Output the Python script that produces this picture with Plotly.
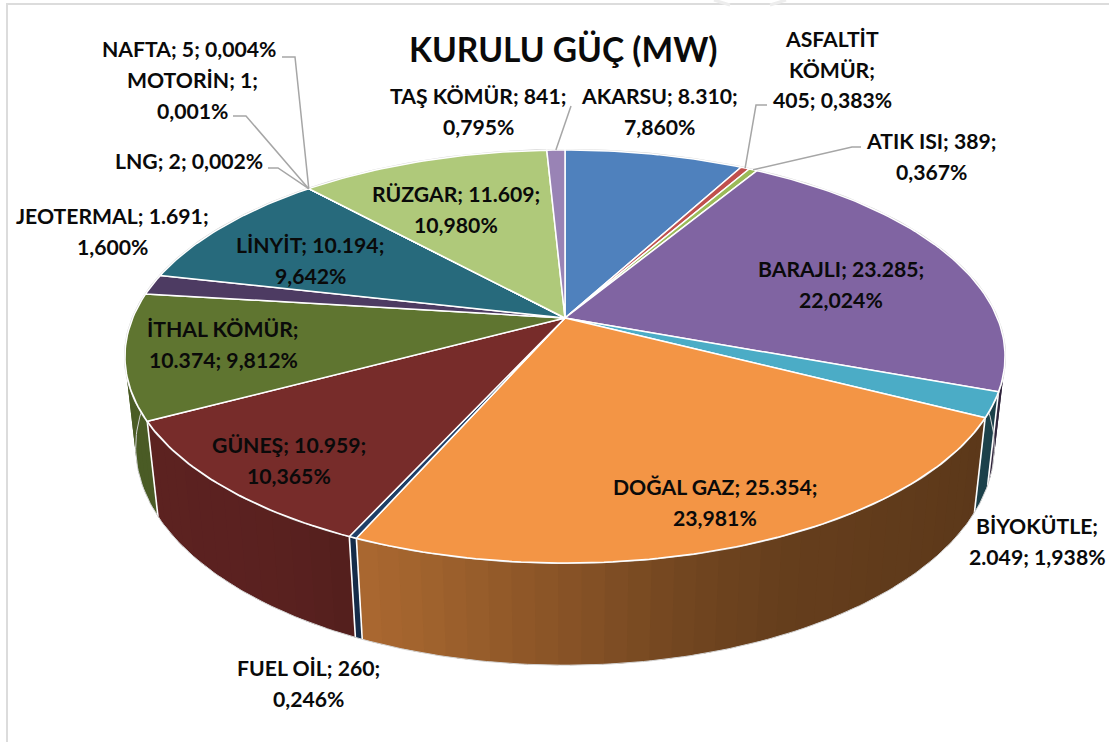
import numpy as np
import plotly.graph_objects as go

# ---- data -------------------------------------------------------------
categories = ["AKARSU", "ASFALTİT KÖMÜR", "ATIK ISI", "BARAJLI", "BİYOKÜTLE", "DOĞAL GAZ",
              "FUEL OİL", "GÜNEŞ", "İTHAL KÖMÜR", "JEOTERMAL", "LİNYİT", "LNG",
              "MOTORİN", "NAFTA", "RÜZGAR", "TAŞ KÖMÜR"]
values = [8310, 405, 389, 23285, 2049, 25354, 260, 10959, 10374, 1691, 10194, 2, 1, 5, 11609, 841]
value_labels = ["8.310", "405", "389", "23.285", "2.049", "25.354", "260", "10.959", "10.374",
                "1.691", "10.194", "2", "1", "5", "11.609", "841"]
percent_labels = ["7,860%", "0,383%", "0,367%", "22,024%", "1,938%", "23,981%", "0,246%", "10,365%",
                  "9,812%", "1,600%", "9,642%", "0,002%", "0,001%", "0,004%", "10,980%", "0,795%"]
colors = ["#4F81BD", "#C0504D", "#9BBB59", "#8064A2", "#4BACC6", "#F39545", "#1F3F68", "#772C2A",
          "#5F7530", "#4D3B62", "#276A7C", "#B65708", "#729ACA", "#CD7371", "#AFC97A", "#9983B5"]
title_text = "KURULU GÜÇ (MW)"

# ---- label line breaks and centres (layout, not data) -----------------
label_lines = {
    "AKARSU": (["AKARSU; {v};", "{p}"], 659, 96),
    "ASFALTİT KÖMÜR": (["ASFALTİT", "KÖMÜR;", "{v}; {p}"], 832, 39),
    "ATIK ISI": (["ATIK ISI; {v};", "{p}"], 931, 141),
    "BARAJLI": (["BARAJLI; {v};", "{p}"], 841, 269),
    "BİYOKÜTLE": (["BİYOKÜTLE;", "{v}; {p}"], 1037, 526),
    "DOĞAL GAZ": (["DOĞAL GAZ; {v};", "{p}"], 715, 487),
    "FUEL OİL": (["FUEL OİL; {v};", "{p}"], 308, 668),
    "GÜNEŞ": (["GÜNEŞ; {v};", "{p}"], 289, 445),
    "İTHAL KÖMÜR": (["İTHAL KÖMÜR;", "{v}; {p}"], 223, 329),
    "JEOTERMAL": (["JEOTERMAL; {v};", "{p}"], 112, 216),
    "LİNYİT": (["LİNYİT; {v};", "{p}"], 310, 245),
    "LNG": (["LNG; {v}; {p}"], 189, 161),
    "MOTORİN": (["MOTORİN; {v};", "{p}"], 192, 80),
    "NAFTA": (["NAFTA; {v}; {p}"], 189, 49),
    "RÜZGAR": (["RÜZGAR; {v};", "{p}"], 456, 194),
    "TAŞ KÖMÜR": (["TAŞ KÖMÜR; {v};", "{p}"], 478, 96),
}
leaders = {  # elbow start, elbow end; the third point is on the rim of the slice
    "TAŞ KÖMÜR": [(571, 106)],
    "ASFALTİT KÖMÜR": [(767, 105), (756, 105)],
    "ATIK ISI": [(861, 147), (852, 147)],
    "NAFTA": [(282, 57), (295, 57)],
    "MOTORİN": [(233, 116), (246, 116)],
    "LNG": [(268, 168), (278, 168)],
}

# ---- projection of the tilted disc ------------------------------------
CX, CY, A, B, P, H, Q = 565.0, 318.0, 432.3, 199.3, 0.1864, 91.5, 0.024


def rim(theta, depth=0.0):
    """theta clockwise from 12 o'clock in radians, depth 0 top face, 1 bottom face."""
    u, v = np.sin(theta), np.cos(theta)
    w = 1 + P * v + Q * depth
    return CX + A * u / w, CY + (-B * v + H * depth) / w


total = sum(values)
edges = 2 * np.pi * np.concatenate([[0], np.cumsum(values)]) / total

# lighting of the side wall by clock angle (degrees)
shade_deg = [90, 120, 140, 155, 165, 180, 195, 205, 215, 240, 270]
shade_val = [0.37, 0.38, 0.40, 0.42, 0.46, 0.56, 0.66, 0.71, 0.76, 0.78, 0.80]


def shade(hex_color, f):
    rgb = [int(hex_color[i:i + 2], 16) for i in (1, 3, 5)]
    return "rgb({},{},{})".format(*[int(c * f) for c in rgb])


fig = go.Figure()


def poly(xs, ys, fill, line="rgba(0,0,0,0)", width=0):
    fig.add_trace(go.Scatter(x=xs, y=ys, mode="lines", fill="toself", fillcolor=fill,
                             line=dict(color=line, width=width), hoverinfo="skip", showlegend=False))


def stroke(xs, ys, color, width):
    fig.add_trace(go.Scatter(x=xs, y=ys, mode="lines", line=dict(color=color, width=width),
                             hoverinfo="skip", showlegend=False))


# side walls, in gradient strips; each strip runs on under the next one
lo, hi = np.radians(88), np.radians(272)
for i, col in enumerate(colors):
    a, b = max(edges[i], lo), min(edges[i + 1], hi)
    if b <= a:
        continue
    n = max(1, int(np.degrees(b - a) / 2.5))
    t = np.linspace(a, b, n + 1)
    step = t[1] - t[0]
    for j in range(n):
        end = t[j + 1] if j == n - 1 else t[j + 1] + 0.5 * step
        tt = np.linspace(t[j], end, 4)
        xt, yt = rim(tt)
        xb, yb = rim(tt[::-1], 1)
        f = float(np.interp(np.degrees((t[j] + t[j + 1]) / 2), shade_deg, shade_val))
        poly(np.r_[xt, xb, xt[0]], np.r_[yt, yb, yt[0]], shade(col, f))

# white separators on the walls
for e in edges:
    if lo < e < hi:
        xt, yt = rim(e)
        xb, yb = rim(e, 1)
        stroke([xt, xb], [yt, yb], "white", 1.6)

# faint outer silhouette
t = np.linspace(lo, hi, 200)
xb, yb = rim(t, 1)
stroke(xb, yb, "#D4D4D4", 1)
t = np.linspace(0, 2 * np.pi, 400)
xt, yt = rim(t)
stroke(xt, yt, "#D4D4D4", 2.2)

# top face
for i, col in enumerate(colors):
    t = np.linspace(edges[i], edges[i + 1], max(2, int(np.degrees(edges[i + 1] - edges[i])) + 2))
    xs, ys = rim(t)
    poly(np.r_[CX, xs, CX], np.r_[CY, ys, CY], col, "white", 1.5)

# leader lines
for name, pts in leaders.items():
    i = categories.index(name)
    ex, ey = rim((edges[i] + edges[i + 1]) / 2)
    stroke([p[0] for p in pts] + [ex], [p[1] for p in pts] + [ey], "#A6A6A6", 1.5)

# frame and the faint watermark fragments at the page top
stroke([7, 7, 1109], [742, 4, 4], "#DCDCDC", 2)
stroke([714, 730], [0, 5], "#EDEDED", 3)
stroke([770, 786], [5, 0], "#EDEDED", 3)

ann = []
LINE = 30.5
for name, val, pct in zip(categories, value_labels, percent_labels):
    lines, x, y = label_lines[name]
    for k, s in enumerate(lines):
        ann.append(dict(x=x, y=y + k * LINE, text=s.format(v=val, p=pct), showarrow=False,
                        xanchor="center", yanchor="middle", xref="x", yref="y",
                        font=dict(family="Lato", size=21.2, color="#0A0A0A", weight="bold")))
ann.append(dict(x=563, y=49, text=title_text, showarrow=False, xanchor="center", yanchor="middle",
                font=dict(family="Lato", size=33.5, color="#0A0A0A", weight="bold")))

fig.update_layout(width=1109, height=742, margin=dict(l=0, r=0, t=0, b=0), paper_bgcolor="white",
                  plot_bgcolor="white", showlegend=False, hovermode=False, annotations=ann,
                  xaxis=dict(range=[0, 1109], visible=False, fixedrange=True),
                  yaxis=dict(range=[742, 0], visible=False, fixedrange=True))
fig.write_html("out.html", post_script="document.body.style.margin='0';document.body.style.overflow='hidden';",
               config={"displayModeBar": False})
